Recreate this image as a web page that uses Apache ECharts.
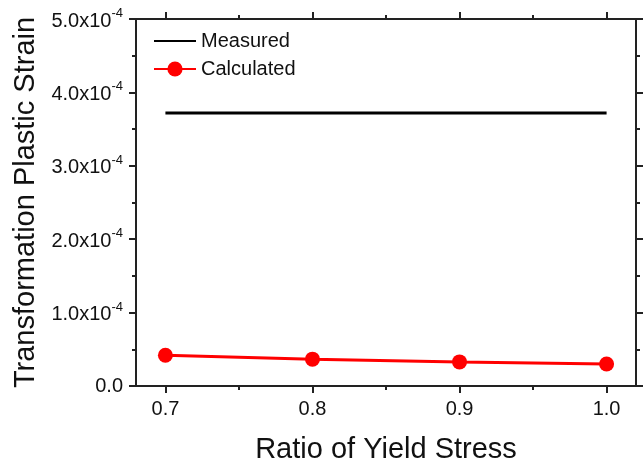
<!DOCTYPE html>
<html>
<head>
<meta charset="utf-8">
<style>
    html, body { margin: 0; padding: 0; background: #fff; }
    #strainChart { width: 643px; height: 463px; }
</style>
<script src="https://cdn.jsdelivr.net/npm/echarts@6/dist/echarts.min.js"></script>
</head>
<body>
<div id="strainChart"></div>
<script>
    // ratio of yield stress (x)
    var yieldRatio = [0.7, 0.8, 0.9, 1.0];
    // transformation plastic strain
    var measured = [3.72e-4, 3.72e-4, 3.72e-4, 3.72e-4];
    var calculated = [0.418e-4, 0.366e-4, 0.328e-4, 0.300e-4];
    var xMajorTicks = [0.7, 0.8, 0.9, 1.0];
    var xMinorTicks = [0.75, 0.85, 0.95];

    var FONT = 'Liberation Sans';

    function pairs(xs, ys) {
        var out = [];
        for (var i = 0; i < xs.length; i++) out.push([xs[i], ys[i]]);
        return out;
    }

    function yLabel(v) {
        if (Math.abs(v) < 1e-12) return '{a|0.0}';
        return '{a|' + (v * 1e4).toFixed(1) + 'x10}{b|-4}';
    }

    var lineStyle = { color: '#222', width: 2 };

    function xAxisDef(pos, ticks, len, showLabel, showLine) {
        return {
            type: 'value', position: pos, min: 0.68, max: 1.02,
            axisLine: { show: showLine, onZero: false, lineStyle: lineStyle },
            axisTick: { show: true, length: len, customValues: ticks, lineStyle: lineStyle },
            axisLabel: showLabel ? {
                show: true, customValues: ticks, margin: 13,
                fontFamily: FONT, fontSize: 20, color: '#111',
                formatter: function (v) { return v.toFixed(1); }
            } : { show: false },
            splitLine: { show: false }
        };
    }

    function yAxisDef(pos, showLabel) {
        return {
            type: 'value', position: pos, min: 0, max: 5e-4, interval: 1e-4,
            axisLine: { show: true, onZero: false, lineStyle: lineStyle },
            axisTick: { show: true, length: 7, lineStyle: lineStyle },
            minorTick: { show: true, splitNumber: 2, length: 4, lineStyle: lineStyle },
            axisLabel: showLabel ? {
                show: true, margin: 13, formatter: yLabel,
                rich: {
                    a: { fontFamily: FONT, fontSize: 20, color: '#111', verticalAlign: 'bottom' },
                    b: { fontFamily: FONT, fontSize: 13, color: '#111', verticalAlign: 'top', padding: [0, 0, 11, 0] }
                }
            } : { show: false },
            splitLine: { show: false }
        };
    }

    var xAxes = [
        xAxisDef('bottom', xMajorTicks, 7, true, true),
        xAxisDef('bottom', xMinorTicks, 4, false, false),
        xAxisDef('top', xMajorTicks, 7, false, true),
        xAxisDef('top', xMinorTicks, 4, false, false)
    ];
    xAxes[0].name = 'Ratio of Yield Stress';
    xAxes[0].nameLocation = 'middle';
    xAxes[0].nameGap = 49;
    xAxes[0].nameTextStyle = { fontFamily: FONT, fontSize: 29, color: '#111' };

    var yAxes = [yAxisDef('left', true), yAxisDef('right', false)];
    yAxes[0].name = 'Transformation Plastic Strain';
    yAxes[0].nameLocation = 'middle';
    yAxes[0].nameGap = 94;
    yAxes[0].nameTextStyle = { fontFamily: FONT, fontSize: 29, color: '#111' };

    var chart = echarts.init(document.getElementById('strainChart'), null, { renderer: 'canvas' });
    chart.setOption({
        animation: false,
        backgroundColor: '#fff',
        grid: { left: 136, right: 7, top: 19, bottom: 77, containLabel: false, outerBoundsMode: 'none' },
        legend: {
            orient: 'vertical', left: 153, top: 31, padding: 0,
            itemWidth: 42, itemHeight: 19, itemGap: 8, itemTextGap: 6,
            textStyle: { fontFamily: FONT, fontSize: 20, color: '#111' },
            data: [
                { name: 'Measured', itemStyle: { opacity: 0 } },
                'Calculated'
            ]
        },
        xAxis: xAxes,
        yAxis: yAxes,
        series: [
            {
                name: 'Measured', type: 'line', xAxisIndex: 0, yAxisIndex: 0,
                data: pairs(yieldRatio, measured),
                symbol: 'none', lineStyle: { color: '#000', width: 3 }, itemStyle: { color: '#000' }
            },
            {
                name: 'Calculated', type: 'line', xAxisIndex: 0, yAxisIndex: 0,
                data: pairs(yieldRatio, calculated),
                symbol: 'circle', symbolSize: 15,
                lineStyle: { color: '#ff0000', width: 3 }, itemStyle: { color: '#ff0000' }
            }
        ]
    });
</script>
</body>
</html>
